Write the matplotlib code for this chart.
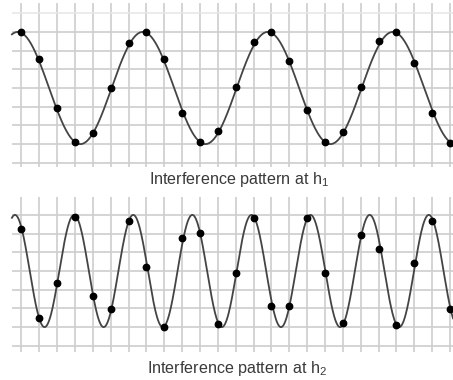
import numpy as np
import matplotlib.pyplot as plt

plt.rcParams['font.family'] = ['Liberation Sans', 'DejaVu Sans']
plt.rcParams['mathtext.fontset'] = 'custom'
plt.rcParams['mathtext.rm'] = 'Liberation Sans'

# sample positions (one per grid column)
samples = np.arange(25)

# measured intensities at h1 and h2, in grid units (amplitude 3)
h1_dots = [3.0, 1.56, -1.08, -2.88, -2.40, 0.0, 2.40,
           3.0, 1.56, -1.35, -2.88, -2.31, 0.06, 2.46,
           3.0, 1.44, -1.17, -2.88, -2.37, 0.06, 2.52,
           3.0, 1.35, -1.35, -2.94]
h2_dots = [2.22, -2.52, -0.66, 2.88, -1.32, -2.04, 2.67, 0.24,
           -2.97, 1.77, 2.04, -2.82, -0.09, 2.85, -1.86, -1.86,
           2.85, -0.09, -2.79, 1.95, 1.20, -2.91, 0.42, 2.70, -2.04]

# fringe parameters: amplitude, period and peak offset (grid units)
amp = 3.0
h1_period, h1_peak = 7.0, -0.2
h2_period, h2_peak = 3.31, 2.95

captions = ['Interference pattern at $\\mathrm{h}_1$',
            'Interference pattern at $\\mathrm{h}_2$']

W, H = 453, 380
fig = plt.figure(figsize=(W / 100, H / 100), dpi=100)

def panel(top_px, bot_px, center_px, dots, period, peak, extra_top):
    px_x = 17.86
    px_y = 18.7
    x0 = -(21.4 - 8) / px_x
    x1 = (W - 21.4) / px_x
    ytop = (center_px - top_px) / px_y
    ybot = (center_px - bot_px) / px_y
    ax = fig.add_axes([8 / W, (H - bot_px) / H, (W - 8) / W, (bot_px - top_px) / H])
    ax.set_xlim(x0, x1)
    ax.set_ylim(ybot, ytop)
    ax.axis('off')

    gc = '#cdcdcd'
    ax.vlines(samples, ybot, ytop, color=gc, lw=1.2, zorder=1)
    ax.hlines(np.arange(-4, 4), -0.53, x1, color=gc, lw=1.2, zorder=1)
    if extra_top:
        ax.hlines([4], -0.53, x1, color='#e6e6e6', lw=1.1, zorder=1)

    xs = np.linspace(-0.53, x1, 1200)
    ys = amp * np.cos(2 * np.pi * (xs - peak) / period)
    ax.plot(xs, ys, color='#444444', lw=1.3, zorder=2)
    ax.plot(samples, dots, 'o', color='black', ms=4.6, zorder=3)
    return ax

panel(3, 167, 88, h1_dots, h1_period, h1_peak, True)
panel(197, 352, 271, h2_dots, h2_period, h2_peak, False)

fig.text(239 / W, 1 - 180 / H, captions[0], ha='center', va='center',
         fontsize=11.6, color='#3a3a3a')
fig.text(237 / W, 1 - 368 / H, captions[1], ha='center', va='center',
         fontsize=11.6, color='#3a3a3a')

fig.savefig('out.png', dpi=100)
